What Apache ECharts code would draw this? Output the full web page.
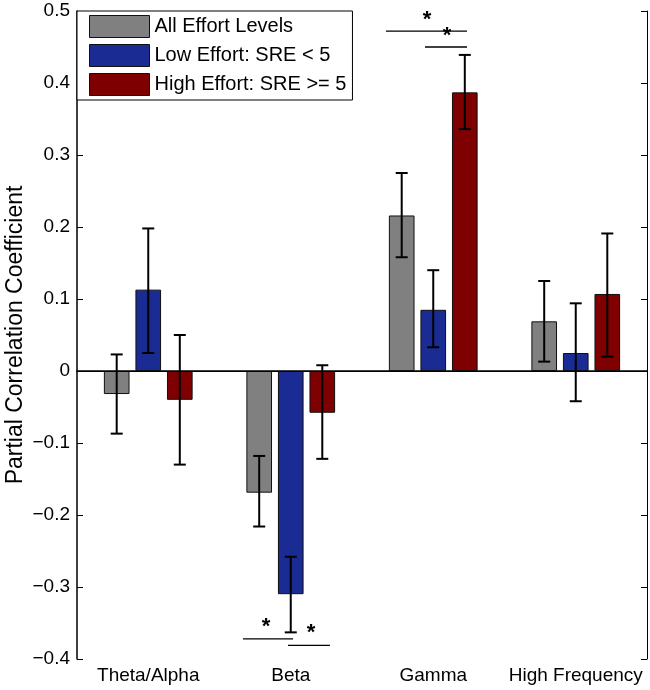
<!DOCTYPE html>
<html><head><meta charset="utf-8">
<script src="https://cdn.jsdelivr.net/npm/echarts@6/dist/echarts.min.js"></script>
<style>html,body{margin:0;padding:0;background:#fff}#c{width:650px;height:690px}</style>
</head><body><div id="c"></div>
<script>
const categories = ['Theta/Alpha', 'Beta', 'Gamma', 'High Frequency'];
const seriesNames = ['All Effort Levels', 'Low Effort: SRE < 5', 'High Effort: SRE >= 5'];
const allValues  = [-0.032, -0.169, 0.216, 0.069];
const allLow     = [-0.087, -0.216, 0.158, 0.013];
const allHigh    = [ 0.023, -0.118, 0.275, 0.125];
const lowValues  = [ 0.113, -0.310, 0.085, 0.025];
const lowLow     = [ 0.025, -0.363, 0.033, -0.042];
const lowHigh    = [ 0.198, -0.258, 0.140, 0.094];
const highValues = [-0.040, -0.058, 0.387, 0.107];
const highLow    = [-0.130, -0.122, 0.336, 0.020];
const highHigh   = [ 0.050, 0.008, 0.439, 0.191];
const yTicks = [-0.4, -0.3, -0.2, -0.1, 0, 0.1, 0.2, 0.3, 0.4, 0.5];
// significance annotations, x in category units (category i spans i..i+1)
const sigLines = [[2.168, 2.737, 0.472], [2.442, 2.737, 0.450], [1.165, 1.516, -0.372], [1.481, 1.775, -0.381]];
const sigStars = [[2.456, 0.487], [2.596, 0.465], [1.326, -0.356], [1.642, -0.364]];

const colors = ['#808080', '#1a2c94', '#7f0000'];
const values = [allValues, lowValues, highValues];
const errLow = [allLow, lowLow, highLow];
const errHigh = [allHigh, lowHigh, highHigh];
const FONT = 'Liberation Sans';
const BW = 0.18, GAP = 0.23;

const chart = echarts.init(document.getElementById('c'));
const series = [];
values.forEach((v, k) => {
  series.push({
    name: seriesNames[k], type: 'bar', data: v, barWidth: (BW * 100) + '%', barGap: (GAP * 100) + '%',
    itemStyle: { color: colors[k], borderColor: '#111', borderWidth: 1 },
    z: 2,
    markLine: k === 0 ? { silent: true, symbol: 'none', label: { show: false }, lineStyle: { color: '#000', width: 1, type: 'solid' }, data: [{ yAxis: 0 }] } : undefined
  });
});
values.forEach((v, k) => {
  series.push({
    type: 'custom', z: 5, silent: true,
    data: v.map((_, i) => [i, errLow[k][i], errHigh[k][i]]),
    renderItem: function (params, api) {
      const band = api.size([1, 0])[0];
      const off = band * BW * (1 + GAP) * (k - 1);
      const a = api.coord([api.value(0), api.value(1)]);
      const b = api.coord([api.value(0), api.value(2)]);
      const x = a[0] + off, cw = 6;
      const st = { stroke: '#000', lineWidth: 2 };
      return { type: 'group', children: [
        { type: 'line', shape: { x1: x, y1: a[1], x2: x, y2: b[1] }, style: st },
        { type: 'line', shape: { x1: x - cw, y1: a[1], x2: x + cw, y2: a[1] }, style: st },
        { type: 'line', shape: { x1: x - cw, y1: b[1], x2: x + cw, y2: b[1] }, style: st }
      ]};
    }
  });
});
series.push({
  type: 'custom', xAxisIndex: 2, z: 6, silent: true,
  data: sigLines,
  renderItem: function (params, api) {
    const a = api.coord([api.value(0), api.value(2)]);
    const b = api.coord([api.value(1), api.value(2)]);
    return { type: 'line', shape: { x1: a[0], y1: a[1], x2: b[0], y2: b[1] }, style: { stroke: '#000', lineWidth: 1.3 } };
  }
});
series.push({
  type: 'custom', xAxisIndex: 2, z: 6, silent: true,
  data: sigStars,
  renderItem: function (params, api) {
    const a = api.coord([api.value(0), api.value(1)]);
    return { type: 'text', x: a[0], y: a[1], style: { text: '*', fill: '#000', font: 'bold 22px ' + FONT, align: 'center', verticalAlign: 'middle' } };
  }
});

const fmt = v => { const r = Math.round(v * 10) / 10; return r === 0 ? '0' : String(r).replace('-', '\u2212'); };

chart.setOption({
  animation: false,
  grid: { left: 77, right: 3, top: 11, bottom: 31, containLabel: false, outerBoundsMode: 'none' },
  legend: {
    data: seriesNames, orient: 'vertical', left: 77, top: 11, icon: 'rect',
    backgroundColor: '#fff', borderColor: '#000', borderWidth: 1,
    padding: [4, 6, 4, 12], itemGap: 6, itemWidth: 60, itemHeight: 22,
    itemStyle: { borderColor: '#111', borderWidth: 1 },
    textStyle: { fontFamily: FONT, fontSize: 20, color: '#000' }
  },
  xAxis: [
    { type: 'category', data: categories, position: 'bottom',
      axisLine: { lineStyle: { color: '#000', width: 1.5 } },
      axisTick: { inside: true, alignWithLabel: true, length: 6, interval: 0, lineStyle: { color: '#000' } },
      axisLabel: { color: '#000', fontFamily: FONT, fontSize: 19, margin: 7, interval: 0 } },
    { type: 'category', data: categories, position: 'top',
      axisLine: { lineStyle: { color: '#000', width: 1 } },
      axisTick: { inside: true, alignWithLabel: true, length: 6, interval: 0, lineStyle: { color: '#000' } },
      axisLabel: { show: false } },
    { type: 'value', min: 0, max: 4, show: false }
  ],
  yAxis: [
    { type: 'value', min: yTicks[0], max: yTicks[yTicks.length - 1], interval: 0.1,
      name: 'Partial Correlation Coefficient', nameLocation: 'middle', nameGap: 61, nameMoveOverlap: false,
      nameTextStyle: { fontFamily: FONT, fontSize: 23, color: '#000', verticalAlign: 'middle' },
      axisLine: { show: true, lineStyle: { color: '#000', width: 1.5 } },
      axisTick: { show: true, inside: true, length: 6, lineStyle: { color: '#000' } },
      splitLine: { show: false },
      axisLabel: { color: '#000', fontFamily: FONT, fontSize: 19, margin: 7, formatter: fmt } },
    { type: 'value', min: yTicks[0], max: yTicks[yTicks.length - 1], interval: 0.1, position: 'right',
      axisLine: { show: true, lineStyle: { color: '#000', width: 1 } },
      axisTick: { show: true, inside: true, length: 6, lineStyle: { color: '#000' } },
      splitLine: { show: false }, axisLabel: { show: false } }
  ],
  series: series
});
</script></body></html>
